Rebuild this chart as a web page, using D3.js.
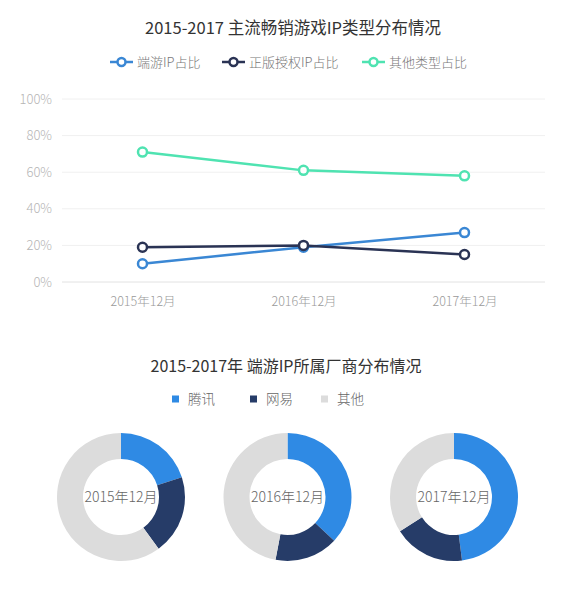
<!DOCTYPE html>
<html>
<head>
<meta charset="utf-8">
<script src="https://cdn.jsdelivr.net/npm/d3@7"></script>
<style>
  html, body { margin: 0; padding: 0; background: #fff; }
  svg { display: block; font-family: "Noto Sans CJK SC", "Noto Sans", sans-serif; }
</style>
</head>
<body>
<div id="chart"></div>
<script>
// line chart data
var months = ["2015年12月", "2016年12月", "2017年12月"];
var lineNames = ["端游IP占比", "正版授权IP占比", "其他类型占比"];
var duanyouIP = [10, 19, 27];
var licensedIP = [19, 20, 15];
var otherTypes = [71, 61, 58];
var yTicks = [0, 20, 40, 60, 80, 100];

// donut data
var vendors = ["腾讯", "网易", "其他"];
var share2015 = [20, 20, 60];
var share2016 = [37, 16, 47];
var share2017 = [48, 18, 34];

var width = 586, height = 611;
var lineColors = ["#3a87d4", "#2a3354", "#4fe3b1"];
var vendorColors = ["#2f8ae4", "#263c68", "#dcdcdc"];

var svg = d3.select("#chart").append("svg")
  .attr("width", width)
  .attr("height", height);

// ---- top chart ----
svg.append("text")
  .attr("x", 293).attr("y", 34)
  .attr("text-anchor", "middle")
  .attr("font-size", 16.5)
  .attr("font-weight", 400)
  .attr("fill", "#333")
  .text("2015-2017 主流畅销游戏IP类型分布情况");

var series = [duanyouIP, licensedIP, otherTypes];

var legend1 = svg.append("g");
var legendX = [110, 222, 362];
lineNames.forEach(function(name, i) {
  var g = legend1.append("g").attr("transform", "translate(" + legendX[i] + ",62)");
  g.append("line").attr("x1", 0).attr("x2", 23).attr("y1", 0).attr("y2", 0)
    .attr("stroke", lineColors[i]).attr("stroke-width", 2.5);
  g.append("circle").attr("cx", 11.5).attr("cy", 0).attr("r", 4)
    .attr("fill", "#fff").attr("stroke", lineColors[i]).attr("stroke-width", 2.5);
  g.append("text").attr("x", 27).attr("y", 4.5)
    .attr("font-size", 13).attr("font-weight", 300).attr("fill", "#777")
    .text(name);
});

var x = d3.scalePoint().domain(months).range([62, 545]).padding(0.5);
var y = d3.scaleLinear().domain([0, 100]).range([282, 99]);

var grid = svg.append("g");
grid.selectAll("line").data(yTicks).enter().append("line")
  .attr("x1", 62).attr("x2", 545)
  .attr("y1", function(d) { return y(d); })
  .attr("y2", function(d) { return y(d); })
  .attr("stroke", function(d) { return d === 0 ? "#e2e2e2" : "#f0f0f0"; })
  .attr("stroke-width", 1);

var yAxis = svg.append("g")
  .attr("transform", "translate(52,0)")
  .call(d3.axisLeft(y).tickValues(yTicks).tickSize(0).tickPadding(0)
    .tickFormat(function(d) { return d + "%"; }));
yAxis.select(".domain").remove();
yAxis.selectAll("text")
  .attr("font-size", 13).attr("font-weight", 300).attr("fill", "#b5b5b5")
  .attr("font-family", "'Noto Sans CJK SC', sans-serif");

var xAxis = svg.append("g")
  .attr("transform", "translate(0,282)")
  .call(d3.axisBottom(x).tickSize(0).tickPadding(15));
xAxis.select(".domain").remove();
xAxis.selectAll("text")
  .attr("font-size", 12.5).attr("font-weight", 300).attr("fill", "#999")
  .attr("font-family", "'Noto Sans CJK SC', sans-serif");

var line = d3.line()
  .x(function(d, i) { return x(months[i]); })
  .y(function(d) { return y(d); });

series.forEach(function(values, i) {
  svg.append("path")
    .datum(values)
    .attr("fill", "none")
    .attr("stroke", lineColors[i])
    .attr("stroke-width", 2.5)
    .attr("d", line);
});
series.forEach(function(values, i) {
  svg.append("g").selectAll("circle").data(values).enter().append("circle")
    .attr("cx", function(d, j) { return x(months[j]); })
    .attr("cy", function(d) { return y(d); })
    .attr("r", 4.5)
    .attr("fill", "#fff")
    .attr("stroke", lineColors[i])
    .attr("stroke-width", 2.5);
});

// ---- bottom chart ----
svg.append("text")
  .attr("x", 286).attr("y", 372)
  .attr("text-anchor", "middle")
  .attr("font-size", 16)
  .attr("font-weight", 400)
  .attr("fill", "#333")
  .text("2015-2017年 端游IP所属厂商分布情况");

var legend2X = [172, 250, 321];
vendors.forEach(function(name, i) {
  var g = svg.append("g").attr("transform", "translate(" + legend2X[i] + ",399)");
  g.append("rect").attr("x", 0).attr("y", -3.5).attr("width", 7).attr("height", 7)
    .attr("fill", vendorColors[i]);
  g.append("text").attr("x", 16).attr("y", 5)
    .attr("font-size", 13.5).attr("font-weight", 300).attr("fill", "#666")
    .text(name);
});

var shares = [share2015, share2016, share2017];
var centers = d3.scalePoint().domain(months).range([121, 454]);
var pie = d3.pie().sort(null).value(function(d) { return d; });
var arc = d3.arc().innerRadius(38).outerRadius(64);

shares.forEach(function(vals, k) {
  var g = svg.append("g")
    .attr("transform", "translate(" + centers(months[k]) + ",497)");
  g.selectAll("path").data(pie(vals)).enter().append("path")
    .attr("d", arc)
    .attr("fill", function(d, i) { return vendorColors[i]; });
  g.append("text")
    .attr("text-anchor", "middle")
    .attr("y", 5)
    .attr("font-size", 14)
    .attr("font-weight", 300)
    .attr("fill", "#666")
    .text(months[k]);
});
</script>
</body>
</html>
